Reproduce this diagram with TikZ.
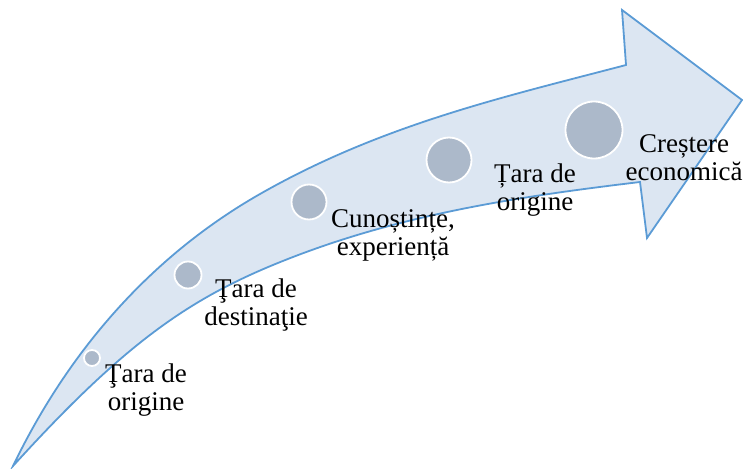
\documentclass[tikz,border=0pt]{standalone}
\usepackage{fontspec}
\setmainfont{Liberation Serif}
\definecolor{arrowfill}{RGB}{220,230,242}
\definecolor{arrowline}{RGB}{91,155,213}
\definecolor{dotfill}{RGB}{172,185,202}
\begin{document}
\begin{tikzpicture}[x=1pt,y=-1pt,
  dot/.style={circle,fill=dotfill,draw=white,line width=1.8pt,inner sep=0pt},
  lbl/.style={align=center,inner sep=0pt,anchor=base,font=\fontsize{27}{27.5}\selectfont,text=black}]
\useasboundingbox (0,0) rectangle (743,468);
\draw[fill=arrowfill,draw=arrowline,line width=1.8pt,line join=miter]
  (13,466) .. controls (83,321) and (180,239.6) .. (260,194)
  .. controls (382,124.5) and (504,97) .. (626,65)
  -- (622,10) -- (742,100) -- (647,238) -- (640,182)
  .. controls (525,195.8) and (408,212.7) .. (293,257)
  .. controls (193,295.5) and (128,339.5) .. (13,466)
  -- cycle;
\node[dot,minimum size=16pt] (d1) at (92,358) {};
\node[dot,minimum size=27pt] (d2) at (188,275) {};
\node[dot,minimum size=35pt] (d3) at (309,202) {};
\node[dot,minimum size=45pt] (d4) at (449,160) {};
\node[dot,minimum size=57pt] (d5) at (594,130) {};
\node[lbl] (t1) at (146,410) {Ţara de\\origine};
\node[lbl] (t2) at (256,325) {Ţara de\\destinaţie};
\node[lbl] (t3) at (393,255) {Cunoștințe,\\experiență};
\node[lbl] (t4) at (535,210) {Țara de\\origine};
\node[lbl] (t5) at (684,180) {Creștere\\economică};
\end{tikzpicture}
\end{document}
